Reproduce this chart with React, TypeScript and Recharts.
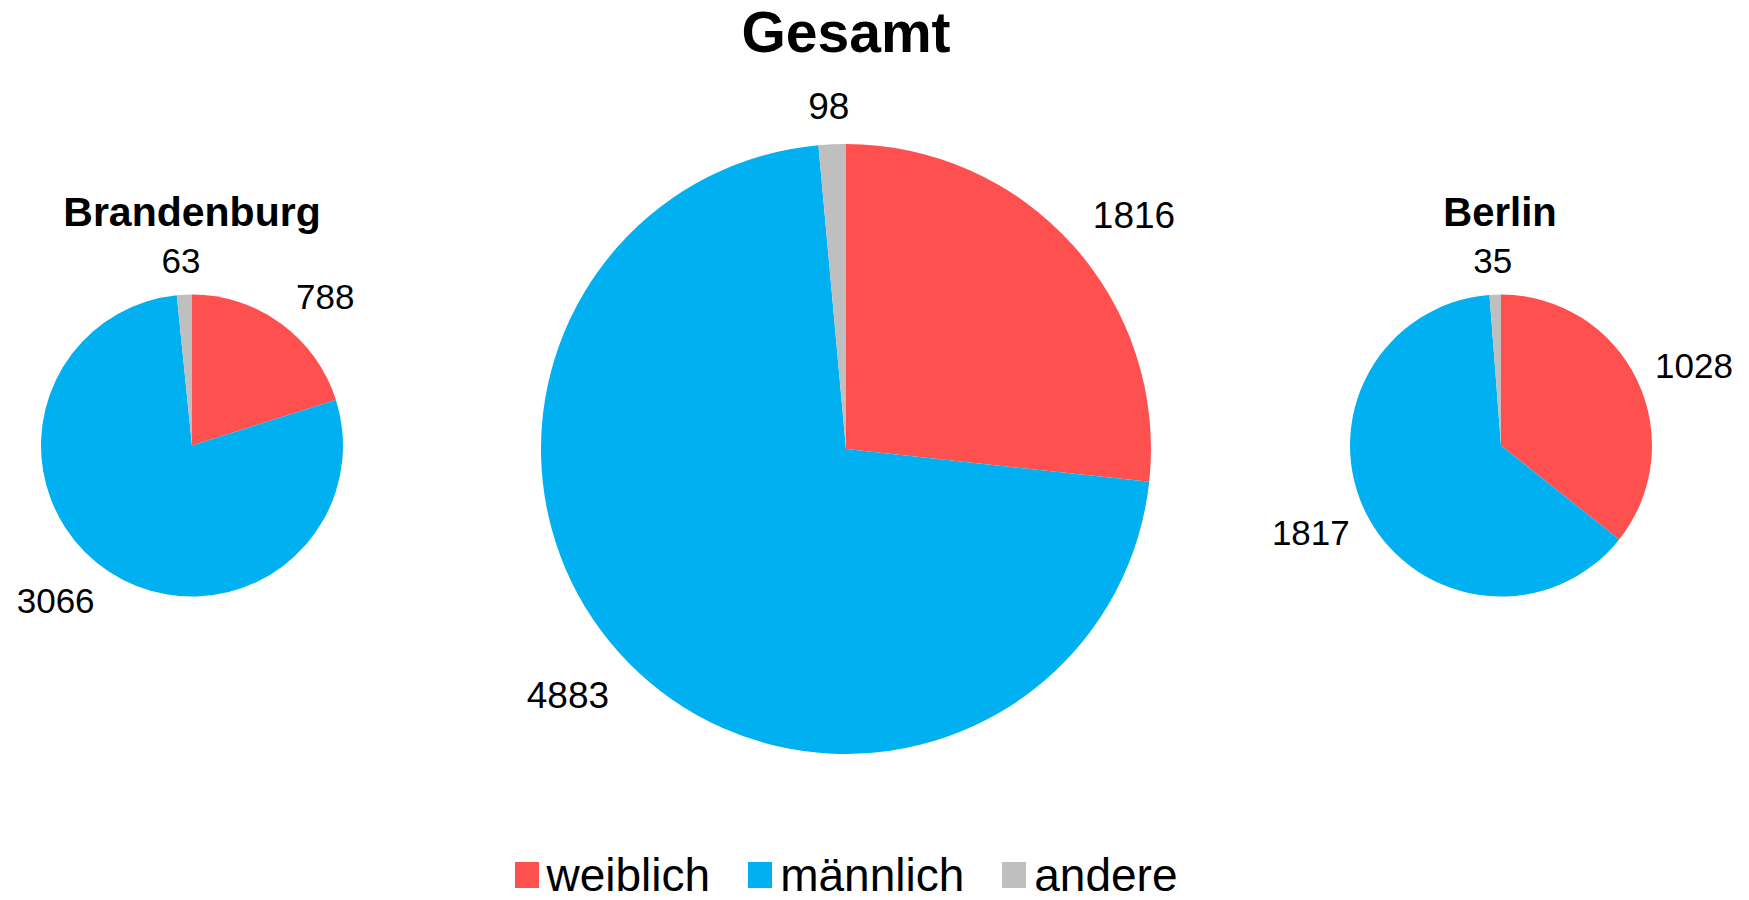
import { Cell, Pie, PieChart } from "recharts";

const categories = ["weiblich", "männlich", "andere"];
const colors = ["#FF5050", "#00B0F0", "#BFBFBF"];

const gesamtValues = [1816, 4883, 98];
const brandenburgValues = [788, 3066, 63];
const berlinValues = [1028, 1817, 35];

const titles = ["Brandenburg", "Gesamt", "Berlin"];

const FONT = "'Liberation Sans', Arial, sans-serif";
const RADIAN = Math.PI / 180;

const toRows = (values: number[]) =>
  categories.map((name, i) => ({ name, value: values[i] }));

// Excel-like "outside end" label placement, derived from the slice geometry
function makeLabel(fontSize: number) {
  return (props: any) => {
    const { cx, cy, midAngle, outerRadius, value } = props;
    const dx = Math.cos(-midAngle * RADIAN);
    const dy = Math.sin(-midAngle * RADIAN);
    const extra = outerRadius - 151;
    const r = outerRadius + 10 + extra * 0.03;
    const px = cx + r * dx;
    const py = cy + r * dy;
    const hw = (String(value).length * 0.556 * fontSize) / 2;
    const k = Math.max(-1, Math.min(1, dx / 0.5));
    const tx = px + (hw + 9) * k;
    const f = 24 + extra * 0.05 * Math.min(1, (1 - Math.abs(dy)) * 3);
    const ty = py + dy * f;
    return (
      <text
        x={tx}
        y={ty + fontSize * 0.358}
        textAnchor="middle"
        fill="#000"
        fontSize={fontSize}
        fontFamily={FONT}
      >
        {value}
      </text>
    );
  };
}

// legend is centred under the big pie (cx 846), not the page
function ChartLegend() {
  return (
    <div
      style={{
        position: "absolute",
        left: 0,
        top: 852,
        width: 1692,
        display: "flex",
        justifyContent: "center",
        alignItems: "center",
        fontFamily: FONT,
        fontSize: 46,
        lineHeight: "46px",
        color: "#000",
      }}
    >
      {categories.map((c, i) => (
        <div
          key={c}
          style={{ display: "flex", alignItems: "center", marginLeft: i === 0 ? 0 : 38 }}
        >
          <span
            style={{
              display: "inline-block",
              width: 24,
              height: 26,
              background: colors[i],
              marginRight: 8,
            }}
          />
          <span>{c}</span>
        </div>
      ))}
    </div>
  );
}

export default function App() {
  const pies = [
    { id: "bb", data: toRows(brandenburgValues), cx: 192, cy: 445.5, r: 151, fs: 35 },
    { id: "ges", data: toRows(gesamtValues), cx: 846, cy: 449, r: 305, fs: 37 },
    { id: "be", data: toRows(berlinValues), cx: 1501, cy: 445.5, r: 151, fs: 35 },
  ];

  return (
    <div
      style={{
        position: "absolute",
        left: 0,
        top: 0,
        width: 1749,
        height: 900,
        background: "#fff",
      }}
    >
      <PieChart width={1749} height={900} margin={{ top: 0, right: 0, bottom: 0, left: 0 }}>
        {pies.map((p) => (
          <Pie
            key={p.id}
            data={p.data}
            dataKey="value"
            nameKey="name"
            cx={p.cx}
            cy={p.cy}
            outerRadius={p.r}
            startAngle={90}
            endAngle={-270}
            stroke="none"
            labelLine={false}
            label={makeLabel(p.fs)}
            isAnimationActive={false}
          >
            {p.data.map((d, i) => (
              <Cell key={d.name} fill={colors[i]} />
            ))}
          </Pie>
        ))}
      </PieChart>
      <svg
        width={1749}
        height={900}
        style={{ position: "absolute", left: 0, top: 0, pointerEvents: "none" }}
      >
        <text x={192} y={226} textAnchor="middle" fontFamily={FONT} fontWeight="bold" fontSize={41}>
          {titles[0]}
        </text>
        <text x={846} y={52} textAnchor="middle" fontFamily={FONT} fontWeight="bold" fontSize={57}>
          {titles[1]}
        </text>
        <text x={1500} y={226} textAnchor="middle" fontFamily={FONT} fontWeight="bold" fontSize={40}>
          {titles[2]}
        </text>
      </svg>
      <ChartLegend />
    </div>
  );
}
